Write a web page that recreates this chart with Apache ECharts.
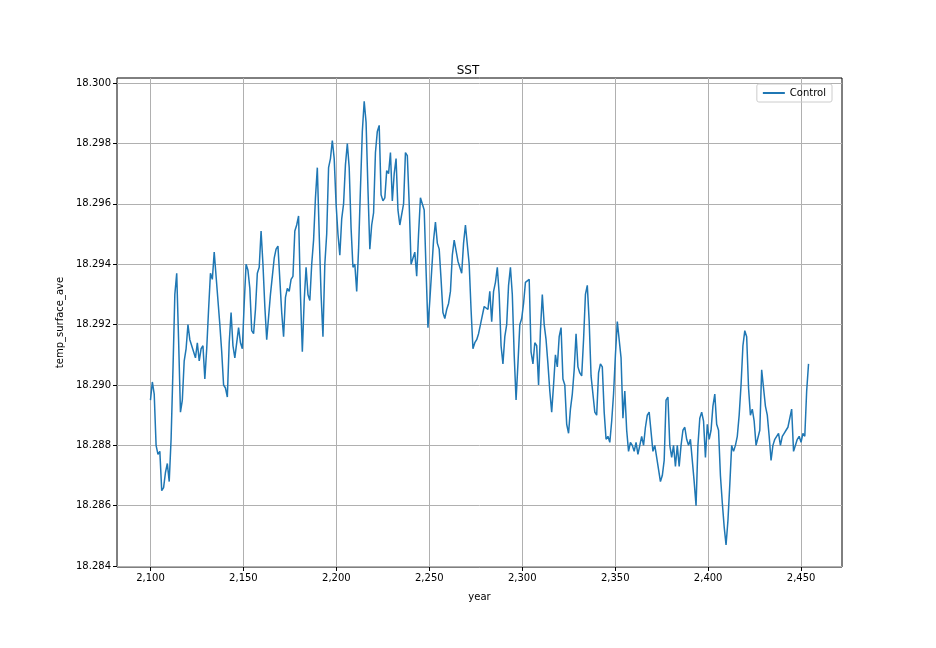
<!DOCTYPE html>
<html><head><meta charset="utf-8">
<script src="https://cdn.jsdelivr.net/npm/echarts@6/dist/echarts.min.js"></script>
<style>html,body{margin:0;padding:0;background:#fff}#c{width:936px;height:648px}</style>
</head><body><div id="c"></div>
<script>
const startYear = 2100;
const sst = [
18.2895,18.2901,18.2897,18.2880,18.2877,18.2878,18.2865,18.2866,18.2871,18.2874,
18.2868,18.2882,18.2905,18.2930,18.2937,18.2915,18.2891,18.2895,18.2908,18.2912,
18.2920,18.2915,18.2913,18.2913,18.2909,18.2914,18.2908,18.2912,18.2913,18.2902,
18.2912,18.2925,18.2937,18.2935,18.2944,18.2936,18.2928,18.2920,18.2911,18.2900,
18.2899,18.2896,18.2914,18.2924,18.2913,18.2909,18.2909,18.2919,18.2914,18.2912,
18.2927,18.2940,18.2938,18.2932,18.2918,18.2917,18.2925,18.2937,18.2939,18.2951,
18.2940,18.2926,18.2915,18.2915,18.2930,18.2936,18.2942,18.2945,18.2946,18.2935,
18.2924,18.2916,18.2929,18.2932,18.2931,18.2935,18.2936,18.2951,18.2953,18.2956,
18.2930,18.2911,18.2928,18.2939,18.2930,18.2928,18.2940,18.2948,18.2962,18.2972,
18.2950,18.2930,18.2916,18.2940,18.2950,18.2972,18.2975,18.2981,18.2975,18.2960,
18.2950,18.2943,18.2955,18.2960,18.2973,18.2980,18.2972,18.2952,18.2939,18.2940,
18.2931,18.2945,18.2965,18.2984,18.2994,18.2987,18.2965,18.2945,18.2953,18.2957,
18.2977,18.2984,18.2986,18.2963,18.2961,18.2962,18.2971,18.2970,18.2977,18.2961,
18.2970,18.2975,18.2958,18.2953,18.2953,18.2960,18.2977,18.2976,18.2960,18.2940,
18.2942,18.2944,18.2936,18.2950,18.2962,18.2962,18.2958,18.2938,18.2919,18.2928,
18.2928,18.2948,18.2954,18.2947,18.2945,18.2935,18.2924,18.2922,18.2925,18.2927,
18.2931,18.2943,18.2948,18.2948,18.2941,18.2939,18.2937,18.2947,18.2953,18.2953,
18.2940,18.2925,18.2912,18.2914,18.2915,18.2917,18.2920,18.2920,18.2926,18.2926,
18.2925,18.2931,18.2921,18.2931,18.2934,18.2939,18.2930,18.2913,18.2907,18.2916,
18.2920,18.2933,18.2939,18.2930,18.2910,18.2895,18.2907,18.2920,18.2922,18.2927,
18.2934,18.2934,18.2935,18.2911,18.2907,18.2914,18.2913,18.2900,18.2918,18.2930,
18.2920,18.2915,18.2907,18.2898,18.2891,18.2900,18.2910,18.2906,18.2916,18.2919,
18.2902,18.2900,18.2887,18.2884,18.2892,18.2897,18.2905,18.2917,18.2906,18.2904,
18.2903,18.2915,18.2930,18.2933,18.2921,18.2903,18.2897,18.2891,18.2890,18.2904,
18.2907,18.2906,18.2891,18.2882,18.2883,18.2881,18.2888,18.2897,18.2910,18.2921,
18.2915,18.2909,18.2889,18.2898,18.2885,18.2878,18.2881,18.2880,18.2878,18.2881,
18.2877,18.2880,18.2883,18.2880,18.2886,18.2890,18.2891,18.2891,18.2878,18.2880,
18.2876,18.2876,18.2868,18.2870,18.2875,18.2895,18.2896,18.2880,18.2876,18.2880,
18.2873,18.2880,18.2873,18.2880,18.2885,18.2886,18.2882,18.2880,18.2882,18.2875,
18.2868,18.2860,18.2880,18.2889,18.2891,18.2888,18.2876,18.2887,18.2882,18.2885,
18.2893,18.2897,18.2887,18.2885,18.2870,18.2861,18.2853,18.2847,18.2855,18.2867,
18.2880,18.2878,18.2880,18.2883,18.2890,18.2900,18.2913,18.2918,18.2916,18.2899,
18.2890,18.2892,18.2888,18.2880,18.2880,18.2885,18.2905,18.2899,18.2893,18.2890,
18.2883,18.2875,18.2880,18.2882,18.2883,18.2884,18.2880,18.2883,18.2884,18.2885,
18.2886,18.2886,18.2892,18.2878,18.2878,18.2882,18.2883,18.2881,18.2884,18.2883,
18.2898,18.2907
];
const xTicks = [2100,2150,2200,2250,2300,2350,2400,2450];
const yTicks = [18.284,18.286,18.288,18.290,18.292,18.294,18.296,18.298,18.300];
const xMin = 2082, xMax = 2472;
const data = sst.map((v,i)=>[startYear+i*(354/(sst.length-1)), v]);
const font = 'DejaVu Sans';
const chart = echarts.init(document.getElementById('c'));
chart.setOption({
  animation:false,
  textStyle:{fontFamily:font},
  title:{text:'SST',left:'center',top:60,textStyle:{fontSize:12,fontWeight:'normal',color:'#000',fontFamily:font}},
  legend:{data:['Control'],right:104,top:84,orient:'vertical',itemWidth:22,itemHeight:2,
    borderColor:'#ccc',borderWidth:1,borderRadius:2,padding:[4,6],
    textStyle:{fontSize:10,color:'#000',fontFamily:font},icon:'rect'},
  grid:{left:117,right:94,top:78,bottom:81,containLabel:false,show:true,borderColor:'#000',borderWidth:1},
  xAxis:{type:'value',min:xMin,max:xMax,name:'year',nameLocation:'middle',nameGap:25,
    nameTextStyle:{fontSize:10,color:'#000'},
    axisLine:{show:false},
    axisTick:{show:true,customValues:xTicks,length:4,inside:false,lineStyle:{color:'#000'}},
    axisLabel:{customValues:xTicks,fontSize:10,color:'#000',margin:6},
    splitLine:{show:true,lineStyle:{color:'#b0b0b0',width:1}}},
  yAxis:{type:'value',min:18.28397,max:18.30017,name:'temp_surface_ave',nameLocation:'middle',nameGap:50,
    nameTextStyle:{fontSize:10,color:'#000'},
    axisLine:{show:false},
    axisTick:{show:true,customValues:yTicks,length:4,lineStyle:{color:'#000'}},
    axisLabel:{customValues:yTicks,fontSize:10,color:'#000',margin:6,formatter:v=>v.toFixed(3)},
    splitLine:{show:true,lineStyle:{color:'#b0b0b0',width:1}}},
  series:[{name:'Control',type:'line',data:data,showSymbol:false,symbol:'none',
    lineStyle:{color:'#1f77b4',width:1.5},itemStyle:{color:'#1f77b4'}}]
});
</script></body></html>
